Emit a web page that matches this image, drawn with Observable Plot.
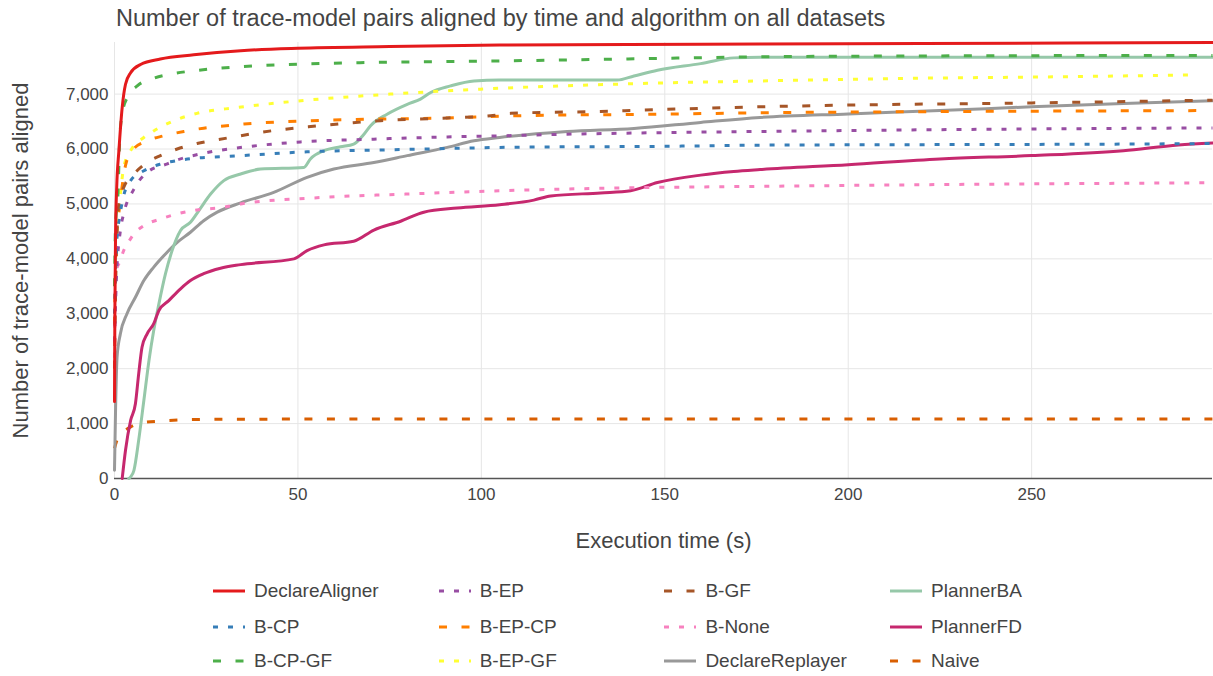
<!DOCTYPE html>
<html><head><meta charset="utf-8">
<script src="https://cdn.jsdelivr.net/npm/d3@7"></script>
<script src="https://cdn.jsdelivr.net/npm/@observablehq/plot@0.6"></script>
<style>
body{margin:0;background:#fff;font-family:"Liberation Sans",Arial,sans-serif;}
#wrap{position:relative;width:1213px;height:676px;overflow:hidden;}
#title{height:36px;line-height:36px;padding-left:116px;font-size:23.5px;color:#444;white-space:nowrap;}
#legend{position:relative;width:1213px;height:116px;}
.item{position:absolute;display:flex;align-items:center;font-size:19px;color:#444;height:24px;white-space:nowrap;}
.item svg{margin-right:9px;}
</style></head>
<body><div id="wrap"><div id="title">Number of trace-model pairs aligned by time and algorithm on all datasets</div><div id="chart"></div><div id="legend"></div></div>
<script>
// ---- data: [time (s), pairs aligned] ----
const declareAligner = [[0,1400],[0.1,3000],[0.3,4500],[0.6,5300],[1.2,5970],[2.1,6760],[3,7180],[4.4,7390],[7.1,7540],[12.5,7640],[21.6,7715],[34.4,7790],[50,7835],[75,7865],[105,7893],[140,7905],[176,7912],[220,7922],[260,7932],[299.3,7940]];
const bCP = [[0,3000],[0.6,4300],[1.5,4800],[2.5,5150],[4.4,5425],[8,5605],[12.5,5725],[17.1,5790],[22.5,5835],[28.9,5860],[34.4,5880],[52.5,5950],[70.7,5980],[98,6020],[105,6030],[150.7,6050],[176,6070],[220,6080],[275,6090],[299.3,6100]];
const bCPGF = [[0,3500],[0.3,4640],[0.9,5120],[1.45,6210],[2.1,6640],[3.5,6940],[6.2,7150],[10.7,7290],[15.3,7365],[21.6,7425],[33.4,7496],[50,7545],[68.9,7575],[99.8,7600],[140,7640],[176,7680],[220,7695],[299.3,7705]];
const bEP = [[0,2500],[0.5,3600],[1.6,4515],[2.5,4820],[5.3,5270],[8.9,5575],[14.4,5730],[18,5820],[23.4,5910],[28,5970],[33.4,6020],[50.7,6130],[70.7,6180],[90.7,6220],[105,6240],[123.4,6270],[150.7,6300],[176,6320],[220,6350],[299.3,6385]];
const bEPCP = [[0,2800],[0.5,4300],[1.5,5000],[3,5700],[4.8,5970],[8.9,6150],[13.4,6240],[18.9,6320],[24.3,6380],[29.8,6420],[35.3,6455],[53.4,6515],[71.6,6545],[90.7,6565],[108.9,6605],[150.7,6636],[176,6660],[220,6680],[296,6700]];
const bEPGF = [[0,3000],[0.5,4300],[1.0,4800],[1.6,5180],[2.5,5665],[4.4,5970],[8,6210],[10.7,6330],[16.2,6515],[22.5,6650],[33.4,6755],[52.5,6890],[75.2,7000],[99.8,7090],[141.5,7190],[176,7240],[220,7290],[250,7310],[295,7350]];
const bGF = [[0,2000],[0.4,3800],[1.2,5000],[2.5,5300],[5.3,5545],[8.9,5755],[12.5,5880],[17.1,6000],[22.5,6100],[28,6170],[33,6225],[38,6285],[55.3,6420],[72.5,6515],[90.7,6565],[102.5,6605],[108,6650],[132.5,6685],[156,6733],[176,6770],[200,6800],[250,6840],[299.3,6890]];
const bNone = [[0,2200],[0.3,3730],[1.6,3970],[2.5,4150],[3.5,4270],[5.3,4455],[8,4605],[12.5,4725],[17.1,4820],[22.5,4890],[29.8,4940],[34.4,5000],[57.1,5120],[79.8,5180],[105,5240],[141.6,5295],[176,5320],[220,5350],[299.3,5385]];
const declareReplayer = [[0,150],[0.3,1300],[0.7,2210],[1.6,2635],[3.4,3000],[5.7,3300],[8,3605],[10.7,3850],[13.9,4090],[17.1,4300],[20.7,4485],[24.3,4695],[28,4850],[34.4,5020],[43.4,5210],[52.5,5485],[59.8,5635],[70.7,5755],[79.8,5880],[90.7,6030],[98,6150],[105,6210],[123.4,6320],[141.6,6375],[159.8,6485],[176,6575],[200,6640],[225,6700],[250,6770],[275,6830],[299.3,6880]];
const plannerBA = [[3.9,0],[4.4,30],[5.3,150],[6.6,700],[8,1420],[9.4,2150],[10.7,2700],[12.1,3180],[13.9,3730],[15.7,4150],[18,4515],[20.7,4665],[23,4880],[26.2,5180],[29.8,5425],[34.4,5545],[39.8,5635],[51.6,5665],[53.4,5820],[57.1,5970],[61.6,6040],[65.2,6090],[68,6270],[69.8,6425],[74.3,6635],[79.8,6815],[83.4,6910],[86.2,7030],[91.6,7150],[98,7240],[105,7255],[137,7255],[141.6,7330],[148,7435],[159.8,7555],[168.8,7660],[176,7670],[299.3,7670]];
const plannerFD = [[2.1,0],[3,515],[4.4,1060],[5.7,1360],[6.6,1910],[7.5,2390],[8.9,2635],[10.7,2820],[12.1,3060],[14.8,3240],[18,3455],[20.7,3605],[24.3,3730],[28.9,3830],[34.4,3895],[48.9,4000],[52.5,4150],[57.1,4255],[65.2,4320],[70.7,4525],[78,4685],[84.3,4850],[93.4,4925],[105,4985],[114.3,5070],[118.9,5145],[132.5,5200],[140.7,5240],[148,5390],[159.8,5525],[168.8,5590],[176,5625],[200,5715],[225,5820],[250,5880],[275,5970],[290,6075],[299.3,6110]];
const naive = [[0,550],[0.7,700],[2.1,820],[4.4,940],[7.1,1010],[12.5,1047],[21.6,1073],[34.4,1080],[100,1085],[299.3,1085]];

const names = ["DeclareAligner","B-CP","B-CP-GF","B-EP","B-EP-CP","B-EP-GF","B-GF","B-None","DeclareReplayer","PlannerBA","PlannerFD","Naive"];
const values = [declareAligner,bCP,bCPGF,bEP,bEPCP,bEPGF,bGF,bNone,declareReplayer,plannerBA,plannerFD,naive];
const colors = ["#e41a1c","#377eb8","#4daf4a","#984ea3","#ff7f00","#ffff33","#a65628","#f781bf","#999999","#96c8a9","#c6286e","#d95f02"];
const styles = ["solid","dot","dash","dot","dash","dot","dash","dot","solid","solid","solid","dash"];
const drawOrder = ["Naive","DeclareReplayer","PlannerBA","PlannerFD","B-None","B-EP-GF","B-EP-CP","B-GF","B-EP","B-CP","B-CP-GF","DeclareAligner"];
const xTicks = [0,50,100,150,200,250];
const yTicks = [0,1000,2000,3000,4000,5000,6000,7000];
const xDomain = [0,299.3];
const yDomain = [0,7940];
const xLabel = "Execution time (s)";
const yLabel = "Number of trace-model pairs aligned";

const dashFor = {solid: null, dot: "5,10", dash: "8,14.5"};
const rows = names.flatMap((n,i)=>values[i].map(([t,v])=>({name:n,t,v})));

const lineMarks = drawOrder.map(n=>{
  const i = names.indexOf(n);
  return Plot.line(rows.filter(d=>d.name===n), {
    x:"t", y:"v", stroke: colors[i], strokeWidth: 3,
    strokeDasharray: dashFor[styles[i]], strokeLinecap: styles[i]==="solid" ? "round" : "butt",
    curve: "monotone-x"
  });
});

const chart = Plot.plot({
  width: 1213, height: 524,
  marginTop: 6, marginBottom: 82, marginLeft: 114, marginRight: 1,
  x: {domain: xDomain},
  y: {domain: yDomain},
  style: {fontFamily: "'Liberation Sans', Arial, sans-serif", color: "#444", fontSize: "17px", overflow: "visible"},
  marks: [
    Plot.gridY(yTicks, {stroke: "#e6e6e6", strokeOpacity: 1}),
    Plot.gridX(xTicks, {stroke: "#e6e6e6", strokeOpacity: 1}),
    Plot.axisY(yTicks, {tickSize: 0, tickPadding: 6, tickFormat: d3.format(","), label: null, fontSize: 17}),
    Plot.axisX(xTicks, {tickSize: 0, tickPadding: 9, label: null, fontSize: 17}),
    Plot.ruleY([0], {stroke: "#555", strokeWidth: 1.5}),
    ...lineMarks,
    Plot.text([xLabel], {text: d=>d, frameAnchor: "bottom", lineAnchor: "middle", textAnchor: "middle", dy: 62, fontSize: 22, fill: "#444"}),
    Plot.text([yLabel], {text: d=>d, frameAnchor: "left", textAnchor: "middle", lineAnchor: "middle", rotate: -90, dx: -94, fontSize: 22, fill: "#444"})
  ]
});
document.getElementById("chart").appendChild(chart);

// legend (3 rows, column-major)
const leg = document.getElementById("legend");
const rowTop = [19, 55, 89];
names.forEach((n,i)=>{
  const col = Math.floor(i/3), row = i%3;
  const div = document.createElement("div");
  div.className = "item";
  div.style.left = (213 + col*225.7) + "px";
  div.style.top = rowTop[row] + "px";
  const dash = dashFor[styles[i]];
  div.innerHTML = `<svg width="32" height="10"><line x1="0" x2="32" y1="5" y2="5" stroke="${colors[i]}" stroke-width="3" ${dash?`stroke-dasharray="${dash}"`:""}/></svg><span>${n}</span>`;
  leg.appendChild(div);
});
</script>
</body></html>
